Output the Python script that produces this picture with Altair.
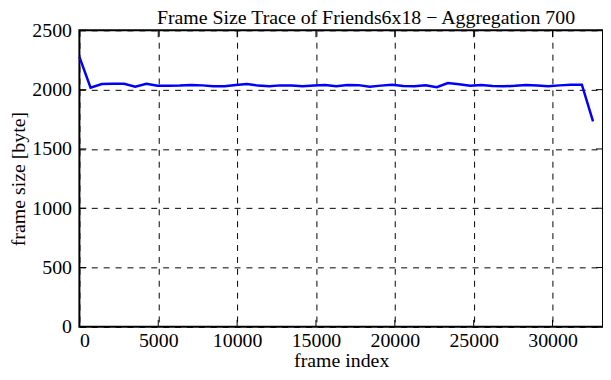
import altair as alt
import pandas as pd

frames = [0, 708, 1416, 2124, 2832, 3540, 4248, 4956, 5664, 6372, 7080, 7788,
          8496, 9204, 9912, 10620, 11328, 12036, 12744, 13452, 14160, 14868,
          15576, 16284, 16992, 17700, 18408, 19116, 19824, 20532, 21240, 21948,
          22656, 23364, 24072, 24780, 25488, 26196, 26904, 27612, 28320, 29028,
          29736, 30444, 31152, 31860, 32568]
sizes = [2276, 2017, 2048, 2050, 2050, 2025, 2050, 2033, 2033, 2034, 2039, 2036,
         2028, 2028, 2040, 2048, 2034, 2028, 2036, 2034, 2028, 2034, 2039, 2028,
         2039, 2038, 2025, 2034, 2042, 2030, 2028, 2036, 2020, 2056, 2046, 2032,
         2040, 2031, 2028, 2032, 2040, 2034, 2028, 2036, 2042, 2042, 1732]

x_ticks = [0, 5000, 10000, 15000, 20000, 25000, 30000]
y_ticks = [0, 500, 1000, 1500, 2000, 2500]
title_text = ["Frame Size Trace of Friends6x18 \u2212 Aggregation 700"]

W, H = 528, 299
FONT = "Liberation Serif"

df = pd.DataFrame({"frame": frames, "size": sizes})
xt = pd.DataFrame({"t": x_ticks})
yt = pd.DataFrame({"t": y_ticks})
tt = pd.DataFrame({"title": title_text})

xs = alt.Scale(domain=[0, 33200], nice=False, zero=False)
ys = alt.Scale(domain=[0, 2500], nice=False)

line = alt.Chart(df).mark_line(color="#0000ff", strokeWidth=2.5).encode(
    x=alt.X("frame:Q", scale=xs,
            axis=alt.Axis(values=x_ticks, title="frame index", format="d",
                          grid=True, ticks=False, domain=False,
                          labelPadding=4, titlePadding=0)),
    y=alt.Y("size:Q", scale=ys,
            axis=alt.Axis(values=y_ticks, title="frame size [byte]", format="d",
                          grid=True, ticks=False, domain=False,
                          labelPadding=8, titlePadding=3)),
)

xtick_bot = alt.Chart(xt).mark_rule(color="black", strokeWidth=1).encode(
    x=alt.X("t:Q", scale=xs), y=alt.value(H - 7), y2=alt.value(H))
xtick_top = alt.Chart(xt).mark_rule(color="black", strokeWidth=1).encode(
    x=alt.X("t:Q", scale=xs), y=alt.value(0), y2=alt.value(7))
ytick_l = alt.Chart(yt).mark_rule(color="black", strokeWidth=1).encode(
    y=alt.Y("t:Q", scale=ys), x=alt.value(0), x2=alt.value(7))
ytick_r = alt.Chart(yt).mark_rule(color="black", strokeWidth=1).encode(
    y=alt.Y("t:Q", scale=ys), x=alt.value(W - 7), x2=alt.value(W))

title = alt.Chart(tt).mark_text(
    font=FONT, fontSize=20, color="black", align="center", baseline="alphabetic"
).encode(text="title:N", x=alt.value(289), y=alt.value(-6))

chart = alt.layer(line, xtick_bot, xtick_top, ytick_l, ytick_r, title).properties(
    width=W, height=H,
    autosize=alt.AutoSizeParams(type="none"),
    padding={"left": 72, "top": 21, "right": 0, "bottom": 44},
    background="white",
).configure_view(
    stroke="black", strokeWidth=2
).configure_axis(
    labelFont=FONT, titleFont=FONT, labelFontSize=20, titleFontSize=20,
    labelColor="black", titleColor="black", titleFontWeight="normal",
    gridColor="black", gridDash=[6, 6], gridWidth=1, gridOpacity=1,
)

chart.save("out.html", embed_options={"renderer": "svg", "actions": False})
